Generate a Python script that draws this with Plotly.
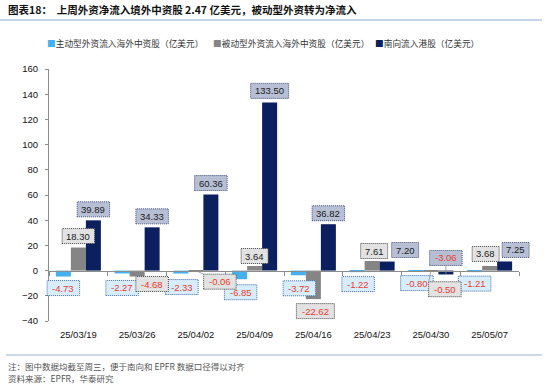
import plotly.graph_objects as go

# ---------------- data ----------------
categories = ["25/03/19", "25/03/26", "25/04/02", "25/04/09",
              "25/04/16", "25/04/23", "25/04/30", "25/05/07"]
active_flow = [-4.73, -2.27, -2.33, -6.85, -3.72, -1.22, -0.80, -1.21]
passive_flow = [18.30, -4.68, -0.06, 3.64, -22.62, 7.61, -0.50, 3.68]
southbound_flow = [39.89, 34.33, 60.36, 133.50, 36.82, 7.20, -3.06, 7.25]
series_names = ["主动型外资流入海外中资股（亿美元）",
                "被动型外资流入海外中资股（亿美元）",
                "南向流入港股（亿美元）"]
y_ticks = [-40, -20, 0, 20, 40, 60, 80, 100, 120, 140, 160]

# ---------------- style / layout ----------------
W, H = 550, 386
ML, MR, MT, MB = 49, 31, 69, 65
PW, PH = W - ML - MR, H - MT - MB
FONT = "Liberation Sans, Arial, Noto Sans CJK SC, sans-serif"
CJK = "Noto Sans CJK SC, Liberation Sans, sans-serif"
RED = "#ee3a2c"

bar_colors = ["#46b0ee", "#858585", "#0c1f5e"]
box_fill = ["#d8edfb", "#e2e2e2", "#b7bfd4"]
box_line = ["#3f6aa8", "#444444", "#3d4c7a"]
bar_offset_px = [-15, 0, 15]

# label offsets (pixels) relative to bar end: (dx, dy up)
label_offsets = [
    [(0, -11.5), (0, -14.5), (1, -13.5), (1, -13), (1, -13), (1, -12), (1, -11.5), (0, -11.5)],
    [(0, 11.5), (15, -7.5), (24, -11), (0, 10), (2, -12), (2, 10), (14, -18), (-4, 12)],
    [(0, 11), (0, 11), (0, 11.5), (0, 11.5), (0, 11), (18, 11.5), (0, 16.5), (11, 11.5)],
]
# leader lines: (series, index)
leaders = [(1, 2), (1, 6), (2, 6)]

ymin, ymax = y_ticks[0], y_ticks[-1]
n = len(categories)


def px_x(px):
    return (px - ML) / PW


def px_y(py):
    return (H - MB - py) / PH


def cat_frac(i):
    # category centre as a fraction of the x axis range [-0.5, n-0.5]
    return (i + 0.5) / n


def val_frac(v):
    return (v - ymin) / (ymax - ymin)


fig = go.Figure()
all_series = [active_flow, passive_flow, southbound_flow]
for s, vals in enumerate(all_series):
    fig.add_trace(go.Bar(x=categories, y=vals, name=series_names[s],
                         marker=dict(color=bar_colors[s], line=dict(width=0)),
                         showlegend=False))

# helper axis line at y=0 with tick marks at category boundaries
fig.add_trace(go.Scatter(x=[-0.5, n - 0.5], y=[0, 0], xaxis="x2", mode="lines",
                         line=dict(width=0, color="rgba(0,0,0,0)"),
                         hoverinfo="skip", showlegend=False))

shapes = []
annotations = []
for s, vals in enumerate(all_series):
    for i, v in enumerate(vals):
        txt = f"{v:.2f}"
        dx, dy = label_offsets[s][i]
        cx = bar_offset_px[s] + dx
        w = 5.5 * len(txt) + 5
        h = 15
        shapes.append(dict(type="rect", xref="paper", yref="paper",
                           xsizemode="pixel", ysizemode="pixel",
                           xanchor=cat_frac(i), yanchor=val_frac(v),
                           x0=cx - w / 2, x1=cx + w / 2, y0=dy - h / 2, y1=dy + h / 2,
                           fillcolor=box_fill[s],
                           line=dict(color=box_line[s], width=1, dash="1px,1px"),
                           layer="above"))
        color = RED if v < 0 else "#1a1a1a"
        annotations.append(dict(x=i, y=v, xref="x", yref="y", text=txt,
                                showarrow=False, xshift=cx, yshift=dy,
                                font=dict(family=FONT, size=9.5, color=color)))
        if (s, i) in leaders:
            ey = dy + h / 2 if dy < 0 else dy - h / 2
            ex = cx - w / 2 if abs(dx) > 5 else cx
            shapes.append(dict(type="line", xref="paper", yref="paper",
                               xsizemode="pixel", ysizemode="pixel",
                               xanchor=cat_frac(i), yanchor=val_frac(v),
                               x0=bar_offset_px[s], y0=0, x1=ex, y1=ey,
                               line=dict(color="#8a8a8a", width=0.8),
                               layer="above"))

# title, legend, footer
annotations.append(dict(xref="paper", yref="paper", x=px_x(6), y=px_y(10),
                        xanchor="left", yanchor="middle", showarrow=False,
                        text="<b>图表18：  上周外资净流入境外中资股 2.47 亿美元，被动型外资转为净流入</b>",
                        font=dict(family=CJK, size=10.5, color="#111111")))
legend_x = [45, 211, 373]
for s in range(3):
    annotations.append(dict(xref="paper", yref="paper", x=px_x(legend_x[s]), y=px_y(44),
                            xanchor="left", yanchor="middle", showarrow=False,
                            text=f"<span style='color:{bar_colors[s]}'>■</span>{series_names[s]}",
                            font=dict(family=CJK, size=8.7, color="#333333")))
annotations.append(dict(xref="paper", yref="paper", x=px_x(6), y=px_y(366),
                        xanchor="left", yanchor="middle", showarrow=False,
                        text="注：图中数据均截至周三，便于南向和 EPFR 数据口径得以对齐",
                        font=dict(family=CJK, size=8.5, color="#555555")))
annotations.append(dict(xref="paper", yref="paper", x=px_x(6), y=px_y(378),
                        xanchor="left", yanchor="middle", showarrow=False,
                        text="资料来源：EPFR，华泰研究",
                        font=dict(family=CJK, size=8.5, color="#555555")))

shapes.append(dict(type="line", xref="paper", yref="paper",
                   x0=px_x(0), x1=px_x(542), y0=px_y(20), y1=px_y(20),
                   line=dict(color="#8fa9d2", width=1.2)))
shapes.append(dict(type="line", xref="paper", yref="paper",
                   x0=px_x(6), x1=px_x(542), y0=px_y(355), y1=px_y(355),
                   line=dict(color="#9bb0d2", width=1)))

fig.update_layout(
    width=W, height=H,
    margin=dict(l=ML, r=MR, t=MT, b=MB, pad=0),
    paper_bgcolor="white", plot_bgcolor="white",
    barmode="group", bargap=0.234, bargroupgap=0,
    showlegend=False,
    xaxis=dict(type="category", range=[-0.5, n - 0.5], showline=False, ticks="",
               showgrid=False, zeroline=False,
               tickfont=dict(family=FONT, size=9.5, color="#111111"),
               ticklabelstandoff=6),
    xaxis2=dict(overlaying="x", anchor="free",
                position=val_frac(0),
                range=[-0.5, n - 0.5], tickvals=[k - 0.5 for k in range(n + 1)],
                ticks="outside", ticklen=4, tickcolor="#8c8c8c", tickwidth=1,
                showline=True, linecolor="#8c8c8c", linewidth=1,
                showticklabels=False, showgrid=False, zeroline=False),
    yaxis=dict(range=[ymin, ymax], tickvals=y_ticks, ticks="outside", ticklen=3,
               tickcolor="#8c8c8c", showline=True, linecolor="#8c8c8c", linewidth=1,
               showgrid=False, zeroline=False,
               tickfont=dict(family=FONT, size=9.5, color="#111111"),
               ticklabelstandoff=5),
    shapes=shapes,
    annotations=annotations,
)

fig.write_html("out.html")
